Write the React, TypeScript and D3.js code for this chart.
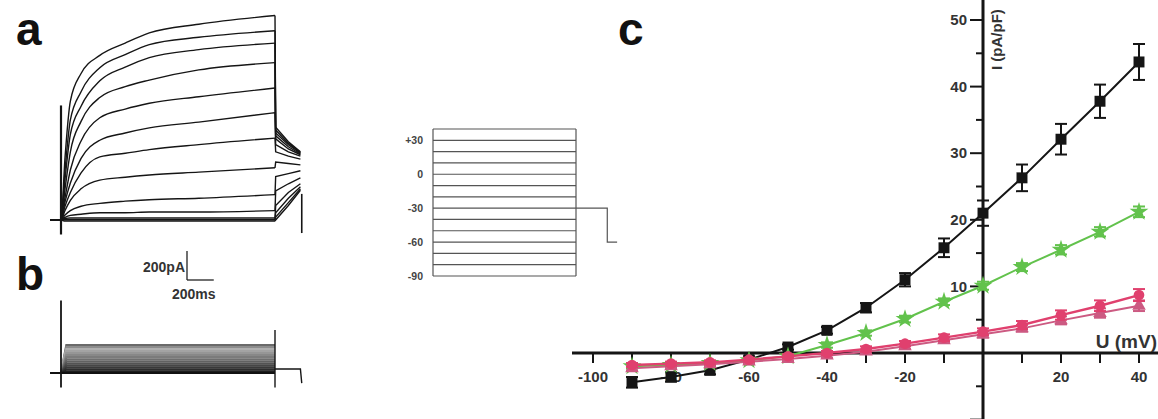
import React from 'react';
import * as d3 from 'd3';

const W = 1158;
const H = 419;
const FONT = '"Liberation Sans", Arial, sans-serif';

// panel a: current traces, sample times (ms) and current (pA)
const aTimes = [-80, 0, 30, 70, 150, 290, 480, 660, 1030, 1600];
const aTraces = [
  [0, 0, 430, 820, 1010, 1135, 1220, 1290, 1350, 1410],
  [0, 0, 340, 690, 885, 1050, 1140, 1210, 1260, 1305],
  [0, 0, 280, 590, 785, 960, 1055, 1120, 1175, 1220],
  [0, 0, 215, 470, 680, 845, 920, 965, 1035, 1085],
  [0, 0, 155, 345, 545, 705, 765, 805, 850, 910],
  [0, 0, 125, 255, 425, 550, 600, 635, 675, 740],
  [0, 0, 95, 190, 325, 435, 460, 485, 520, 565],
  [0, 0, 65, 135, 215, 275, 295, 310, 330, 360],
  [0, 0, 35, 65, 95, 115, 130, 140, 150, 175],
  [0, 0, 18, 32, 40, 50, 50, 55, 55, 65],
  [0, 0, 10, 15, 15, 15, 15, 15, 15, 15],
  [0, 0, 5, 5, 5, 5, 5, 5, 5, 5],
  [0, 0, 0, 0, 0, 0, 0, 0, 0, 0],
  [0, 0, -8, -8, -8, -8, -8, -8, -8, -8],
];
const aTailTimes = [1605, 1700, 1790];
const aTails = [
  [640, 540, 470],
  [620, 530, 465],
  [600, 520, 460],
  [580, 505, 455],
  [560, 490, 450],
  [520, 470, 440],
  [470, 440, 420],
  [400, 390, 380],
  [300, 320, 340],
  [200, 250, 290],
  [100, 190, 250],
  [50, 150, 230],
  [20, 120, 215],
  [0, 100, 205],
];
const aCapOn = [-100, 790];
const aCapOff = [-90, 180];

// panel b: steady amplitudes (pA)
const bAmps = [193, 179, 165, 151, 137, 123, 109, 95, 81, 67, 53, 39, 25, 11, 0];
const bTailTimes = [1605, 1790, 1800];
const bTail = [28, 28, -70];
const bCapOn = [-100, 500];
const bCapOff = [-100, 296];

// scale bar
const scaleBarPA = 200;
const scaleBarMs = 200;

// voltage protocol (mV)
const protoLevels = [40, 30, 20, 10, 0, -10, -20, -30, -40, -50, -60, -70, -80, -90];
const protoLabelValues = [30, 0, -30, -60, -90];
const protoLabels = ['+30', '0', '-30', '-60', '-90'];
const protoTail = [
  [1600, -30],
  [1950, -30],
  [1950, -60],
  [2060, -60],
];

// panel c: I-V curves
const voltages = [-90, -80, -70, -60, -50, -40, -30, -20, -10, 0, 10, 20, 30, 40];
const blackMean = [-4.4, -3.6, -2.6, -1.0, 0.9, 3.4, 6.8, 11.0, 15.8, 21.0, 26.3, 32.1, 37.8, 43.7];
const blackErr = [0.8, 0.7, 0.6, 0.5, 0.4, 0.5, 0.7, 1.0, 1.4, 1.9, 2.0, 2.3, 2.5, 2.7];
const greenMean = [-2.0, -1.8, -1.5, -1.1, -0.5, 1.2, 3.0, 5.1, 7.7, 10.1, 12.9, 15.5, 18.2, 21.2];
const greenErr = [0.3, 0.3, 0.3, 0.3, 0.3, 0.4, 0.4, 0.5, 0.5, 0.6, 0.6, 0.7, 0.7, 0.8];
const pinkAMean = [-1.8, -1.6, -1.4, -1.0, -0.5, 0.0, 0.6, 1.4, 2.3, 3.2, 4.2, 5.7, 7.1, 8.7];
const pinkAErr = [0.3, 0.3, 0.3, 0.3, 0.3, 0.3, 0.4, 0.4, 0.5, 0.5, 0.6, 0.7, 0.8, 0.9];
const pinkBMean = [-2.3, -2.0, -1.7, -1.3, -0.9, -0.4, 0.2, 1.0, 1.9, 2.8, 3.7, 4.9, 6.0, 7.1];
const pinkBErr = [0.3, 0.3, 0.3, 0.3, 0.3, 0.3, 0.3, 0.4, 0.4, 0.5, 0.5, 0.6, 0.7, 0.8];

const xTickValues = [-100, -90, -80, -70, -60, -50, -40, -30, -20, -10, 10, 20, 30, 40];
const xTickLabels = [-100, -80, -60, -40, -20, 20, 40];
const yTickValues = [-10, -5, 5, 10, 15, 20, 25, 30, 35, 40, 45, 50];
const yTickLabels = [10, 20, 30, 40, 50];

const BLACK = '#151515';
const GREEN = '#62c24c';
const PINK_A = '#e0406e';
const PINK_B = '#cc5a82';

export default function App() {
  const xA = d3.scaleLinear().domain([0, 1600]).range([61, 275]);
  const yA = d3.scaleLinear().domain([0, 1400]).range([220, 17]);
  const yB = d3.scaleLinear().domain([0, 200]).range([373, 344]);
  const xP = d3.scaleLinear().domain([0, 1600]).range([433, 576]);
  const yP = d3.scaleLinear().domain([-90, 40]).range([276, 129]);
  const xC = d3.scaleLinear().domain([-100, 40]).range([593, 1139]);
  const yC = d3.scaleLinear().domain([0, 50]).range([353, 20]);

  const lineA = d3
    .line<[number, number]>()
    .x((d) => xA(d[0]))
    .y((d) => yA(d[1]))
    .curve(d3.curveMonotoneX);
  const lineALin = d3
    .line<[number, number]>()
    .x((d) => xA(d[0]))
    .y((d) => yA(d[1]));
  const lineB = d3
    .line<[number, number]>()
    .x((d) => xA(d[0]))
    .y((d) => yB(d[1]));
  const lineP = d3
    .line<[number, number]>()
    .x((d) => xP(d[0]))
    .y((d) => yP(d[1]));
  const lineC = d3
    .line<[number, number]>()
    .x((d) => xC(d[0]))
    .y((d) => yC(d[1]));

  const bColor = d3
    .scaleLinear<string>()
    .domain([0, 2, bAmps.length - 1])
    .range(['#6a6a6a', '#b0b0b0', '#111111']);

  // green goes first so the pink curves sit over it at negative voltages
  const series = [
    { mean: blackMean, err: blackErr, color: BLACK, symbol: d3.symbolSquare, size: 120, width: 2 },
    { mean: greenMean, err: greenErr, color: GREEN, symbol: d3.symbolStar, size: 110, width: 2 },
    { mean: pinkBMean, err: pinkBErr, color: PINK_B, symbol: d3.symbolTriangle, size: 80, width: 2 },
    { mean: pinkAMean, err: pinkAErr, color: PINK_A, symbol: d3.symbolCircle, size: 90, width: 2.4 },
  ];

  const sb = { x: 187, y: 280 };
  const sbW = xA(scaleBarMs) - xA(0);
  const sbH = yA(0) - yA(scaleBarPA);

  return (
    <svg
      width={W}
      height={H}
      style={{ position: 'absolute', left: 0, top: 0, background: '#fff' }}
      fontFamily={FONT}
    >
      {/* panel labels */}
      <text x={16} y={45} fontSize={46} fontWeight="bold" fill="#111">a</text>
      <text x={16} y={290} fontSize={46} fontWeight="bold" fill="#111">b</text>
      <text x={618} y={45} fontSize={46} fontWeight="bold" fill="#111">c</text>

      {/* panel a */}
      <g fill="none" stroke={BLACK} strokeWidth={1.4}>
        {aTraces.map((tr, i) => {
          const pts = aTimes.map((t, j) => [t, tr[j]] as [number, number]);
          const tail: [number, number][] = [
            [1600, tr[tr.length - 1]],
            ...aTailTimes.map((t, j) => [t, aTails[i][j]] as [number, number]),
          ];
          return (
            <g key={i}>
              <path d={lineA(pts) || ''} />
              <path d={lineALin(tail) || ''} />
            </g>
          );
        })}
        <line x1={xA(0)} x2={xA(0)} y1={yA(aCapOn[0])} y2={yA(aCapOn[1])} strokeWidth={2.2} />
        <line x1={xA(1800)} x2={xA(1800)} y1={yA(aCapOff[0])} y2={yA(aCapOff[1])} strokeWidth={1.6} />
      </g>

      {/* scale bar */}
      <g stroke="#222" strokeWidth={1.3} fill="none">
        <line x1={sb.x} x2={sb.x} y1={sb.y} y2={sb.y - sbH} />
        <line x1={sb.x} x2={sb.x + sbW} y1={sb.y} y2={sb.y} />
      </g>
      <text x={sb.x - 2} y={sb.y - 8} textAnchor="end" fontSize={14} fontWeight="bold" fill="#333">
        200pA
      </text>
      <text x={sb.x - 15} y={sb.y + 19} fontSize={14} fontWeight="bold" fill="#333">
        200ms
      </text>

      {/* panel b */}
      <g fill="none" strokeWidth={2.2}>
        {bAmps.map((a, i) => {
          const pts: [number, number][] = [
            [-80, 0],
            [0, 0],
            [40, a],
            [1600, a],
          ];
          return <path key={i} d={lineB(pts) || ''} stroke={bColor(i)} />;
        })}
      </g>
      <g fill="none" stroke={BLACK} strokeWidth={1.4}>
        <path
          d={
            lineB([
              [1600, bTail[0]],
              ...bTailTimes.map((t, j) => [t, bTail[j]] as [number, number]),
            ]) || ''
          }
        />
        <line x1={xA(0)} x2={xA(0)} y1={yB(bCapOn[0])} y2={yB(bCapOn[1])} strokeWidth={1.8} />
        <line x1={xA(1600)} x2={xA(1600)} y1={yB(bCapOff[0])} y2={yB(bCapOff[1])} strokeWidth={1.4} />
      </g>

      {/* protocol */}
      <g fill="none" stroke="#555" strokeWidth={1.2}>
        {protoLevels.map((v) => (
          <line key={v} x1={xP(0)} x2={xP(1600)} y1={yP(v)} y2={yP(v)} />
        ))}
        <line x1={xP(0)} x2={xP(0)} y1={yP(40)} y2={yP(-90)} />
        <line x1={xP(1600)} x2={xP(1600)} y1={yP(40)} y2={yP(-90)} />
        <path d={lineP(protoTail as [number, number][]) || ''} />
      </g>
      <g fontSize={10.5} fontWeight="bold" fill="#444" textAnchor="end">
        {protoLabelValues.map((v, i) => (
          <text key={v} x={423} y={yP(v)} dy="0.35em">
            {protoLabels[i]}
          </text>
        ))}
      </g>

      {/* panel c axes */}
      <g stroke={BLACK} strokeWidth={3}>
        <line x1={572} x2={W} y1={yC(0)} y2={yC(0)} />
        <line x1={xC(0)} x2={xC(0)} y1={0} y2={H} />
      </g>
      <g stroke={BLACK} strokeWidth={2}>
        {xTickValues.map((v) => (
          <line key={v} x1={xC(v)} x2={xC(v)} y1={yC(0)} y2={yC(0) + 10} />
        ))}
        {yTickValues.map((v) => (
          <line
            key={v}
            x1={xC(0) - (v % 10 === 0 ? 13 : 7)}
            x2={xC(0)}
            y1={yC(v)}
            y2={yC(v)}
          />
        ))}
      </g>
      <g fontSize={15} fontWeight="bold" fill="#333">
        {xTickLabels.map((v) => (
          <text key={v} x={xC(v)} y={yC(0) + 29} textAnchor="middle">
            {v}
          </text>
        ))}
        {yTickLabels.map((v) => (
          <text key={v} x={xC(0) - 16} y={yC(v)} dy="0.35em" textAnchor="end">
            {v}
          </text>
        ))}
      </g>
      <text x={W - 1} y={yC(0) - 5} textAnchor="end" fontSize={19} fontWeight="bold" fill="#333">
        U (mV)
      </text>
      <text
        transform={`translate(${xC(0) + 19},70) rotate(-90)`}
        fontSize={15}
        fontWeight="bold"
        fill="#333"
      >
        I (pA/pF)
      </text>

      {/* panel c data */}
      {series.map((s, si) => {
        const pts = voltages.map((v, i) => [v, s.mean[i]] as [number, number]);
        const sym = d3.symbol().type(s.symbol).size(s.size)() || '';
        return (
          <g key={si}>
            <path d={lineC(pts) || ''} fill="none" stroke={s.color} strokeWidth={s.width} />
            <g stroke={s.color} strokeWidth={2}>
              {voltages.map((v, i) => (
                <g key={v}>
                  <line
                    x1={xC(v)}
                    x2={xC(v)}
                    y1={yC(s.mean[i] - s.err[i])}
                    y2={yC(s.mean[i] + s.err[i])}
                  />
                  <line
                    x1={xC(v) - 6}
                    x2={xC(v) + 6}
                    y1={yC(s.mean[i] - s.err[i])}
                    y2={yC(s.mean[i] - s.err[i])}
                  />
                  <line
                    x1={xC(v) - 6}
                    x2={xC(v) + 6}
                    y1={yC(s.mean[i] + s.err[i])}
                    y2={yC(s.mean[i] + s.err[i])}
                  />
                </g>
              ))}
            </g>
            {voltages.map((v, i) => (
              <path
                key={v}
                d={sym}
                transform={`translate(${xC(v)},${yC(s.mean[i])})`}
                fill={s.color}
              />
            ))}
          </g>
        );
      })}
    </svg>
  );
}
